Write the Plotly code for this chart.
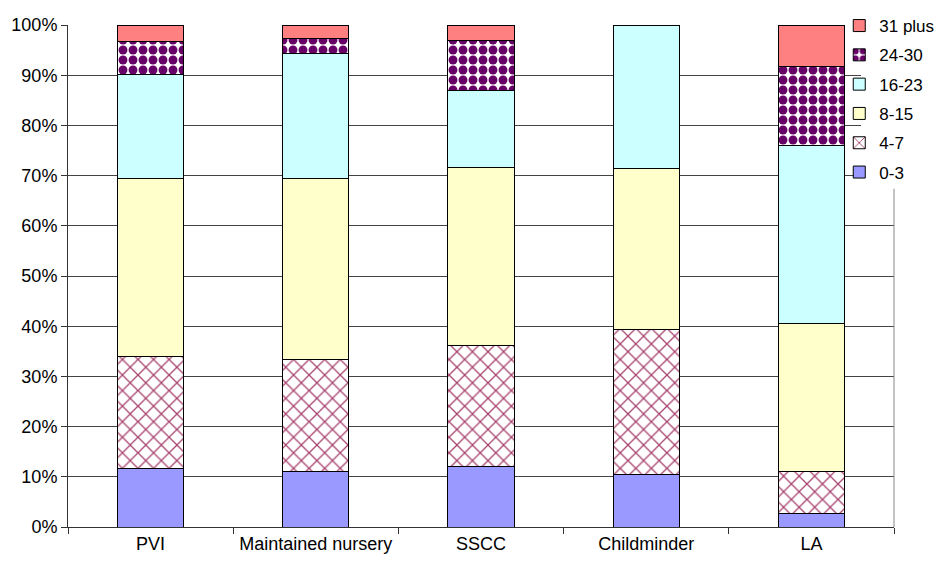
import plotly.graph_objects as go

categories = ["PVI", "Maintained nursery", "SSCC", "Childminder", "LA"]
series_names = ["0-3", "4-7", "8-15", "16-23", "24-30", "31 plus"]
v0_3 = [11.7, 11.1, 12.0, 10.5, 2.7]
v4_7 = [22.2, 22.2, 24.1, 28.8, 8.4]
v8_15 = [35.5, 36.1, 35.6, 32.1, 29.5]
v16_23 = [20.8, 25.0, 15.2, 28.6, 35.3]
v24_30 = [6.5, 2.9, 10.1, None, 15.8]
v31_plus = [3.3, 2.7, 3.0, None, 8.3]
y_ticks = [0, 10, 20, 30, 40, 50, 60, 70, 80, 90, 100]
y_tick_labels = ["0%", "10%", "20%", "30%", "40%", "50%", "60%", "70%", "80%", "90%", "100%"]

values = [v0_3, v4_7, v8_15, v16_23, v24_30, v31_plus]
styles = [
    dict(color="#9999FF"),
    dict(color="white", pattern=dict(shape="x", fgcolor="#a8446f", bgcolor="white",
                                     fgopacity=1, size=11, solidity=0.22)),
    dict(color="#FFFFCC"),
    dict(color="#CCFFFF"),
    dict(color="white", pattern=dict(shape=".", fgcolor="#660066", bgcolor="white",
                                     fgopacity=1, size=10, solidity=0.62)),
    dict(color="#FF8080"),
]

FONT = "Liberation Sans, Arial, sans-serif"
fig = go.Figure()
n = len(series_names)
for i, (name, vals, st) in enumerate(zip(series_names, values, styles)):
    fig.add_trace(go.Bar(
        x=categories, y=vals, name=name, legendgroup=name, legendrank=n - i,
        marker=dict(line=dict(color="black", width=1), **st),
    ))

# page has an 8px body margin, so the figure is shifted by 8px
W, H = 935, 555
L, R, T, B = 60, 49, 17, 35.5
pw, ph = W - L - R, H - T - B

fig.update_layout(
    width=W, height=H,
    margin=dict(l=L, r=R, t=T, b=B, pad=0, autoexpand=False),
    barmode="stack", bargap=0.6,
    plot_bgcolor="white", paper_bgcolor="white",
    font=dict(family=FONT, size=18, color="black"),
    showlegend=True,
    legend=dict(
        xref="container", yref="container",
        x=0.996, xanchor="right",
        y=1 + 6 / H, yanchor="top",
        bgcolor="rgba(0,0,0,0)", borderwidth=0,
        traceorder="grouped", tracegroupgap=4.2,
        font=dict(family=FONT, size=17),
    ),
    xaxis=dict(
        showline=True, linecolor="#333", linewidth=1,
        ticks="outside", tickson="boundaries", ticklen=6, tickcolor="#333",
        showgrid=False, tickfont=dict(size=18),
    ),
    yaxis=dict(
        range=[0, 100], tickmode="array", tickvals=y_ticks, ticktext=y_tick_labels,
        showline=True, linecolor="#333", linewidth=1,
        ticks="outside", ticklen=6, tickcolor="#333",
        showgrid=True, gridcolor="#444", gridwidth=1,
        zeroline=False, tickfont=dict(size=18),
    ),
    shapes=[
        dict(type="rect", xref="paper", yref="paper",
             x0=(853 - L) / pw, x1=1.02, y0=(H - B - 182) / ph, y1=1.02,
             fillcolor="white", line=dict(width=0), layer="above"),
        dict(type="line", xref="paper", yref="paper",
             x0=1, x1=1, y0=0, y1=(H - B - 181) / ph,
             line=dict(color="#888", width=1), layer="above"),
    ],
)

fig.write_html("out.html")
